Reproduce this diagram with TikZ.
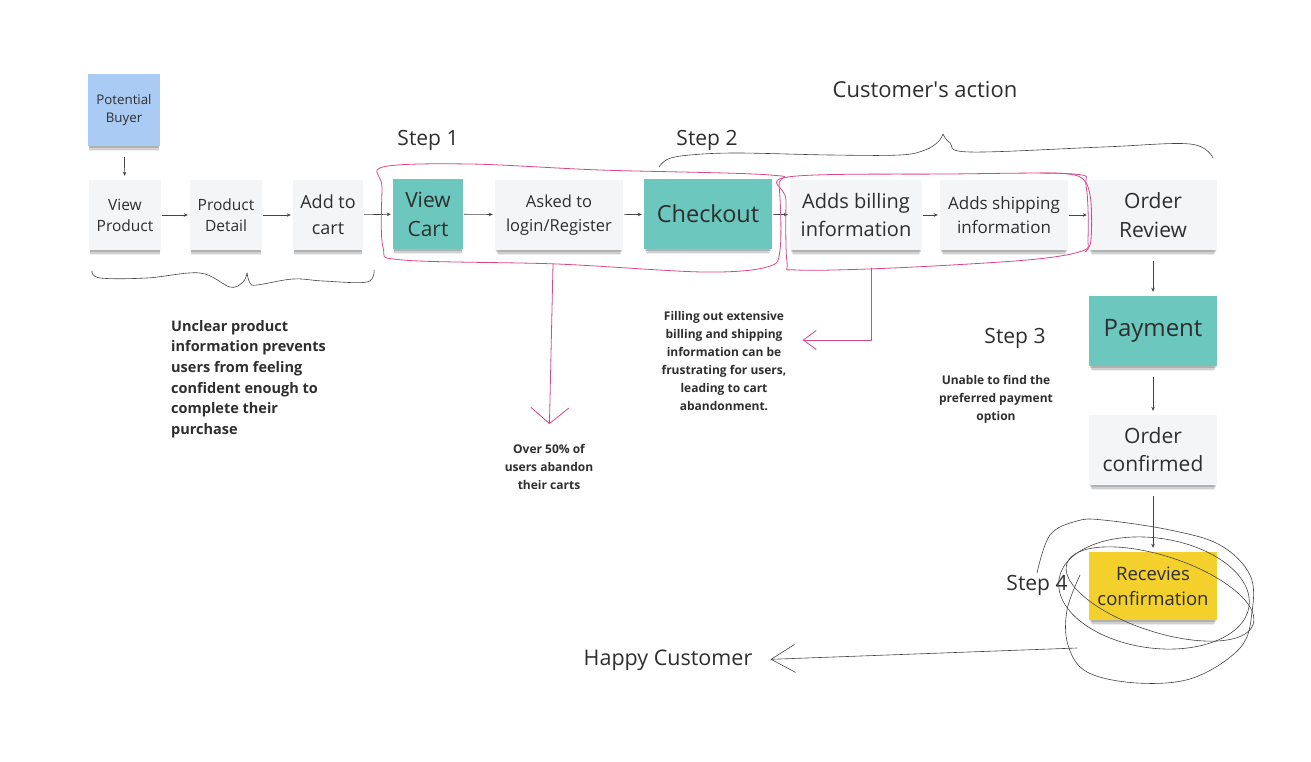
\documentclass[tikz,border=0pt]{standalone}
\usepackage{fontspec}
\setmainfont{Open Sans}
\usetikzlibrary{arrows.meta,shadows,calc}
\definecolor{notegray}{HTML}{F4F5F7}
\definecolor{noteteal}{HTML}{6CC8BE}
\definecolor{noteyellow}{HTML}{F4D02C}
\definecolor{noteblue}{HTML}{AACCF4}
\definecolor{inkpink}{HTML}{D9468A}
\definecolor{inkgray}{HTML}{444444}
\definecolor{textgray}{HTML}{2E2E2E}
\tikzset{
  fsz/.style 2 args={font=\fontsize{#1}{#2}\selectfont},
  bfsz/.style 2 args={font=\fontsize{#1}{#2}\selectfont\bfseries},
  sticky/.style={rectangle, fill=notegray, minimum width=72pt,
    minimum height=70pt, inner sep=2pt, align=center, text=textgray,
    drop shadow={shadow xshift=0pt, shadow yshift=-7pt, shadow scale=.96, opacity=.07, fill=black},
    drop shadow={shadow xshift=0pt, shadow yshift=-5pt, shadow scale=.97, opacity=.12, fill=black},
    drop shadow={shadow xshift=0pt, shadow yshift=-3pt, shadow scale=.98, opacity=.15, fill=black}},
  wide/.style={minimum width=128pt},
  handtext/.style={text=textgray, inner sep=0pt},
  remark/.style={text=textgray, inner sep=0pt, align=center, bfsz={12}{18}},
  flow/.style={draw=inkgray, line width=.6pt, -{Stealth[length=4pt,width=3.5pt]},
    shorten <=1pt, shorten >=2pt},
  dflow/.style={flow, shorten <=11pt, shorten >=4pt},
  pen/.style={draw=inkgray, line width=.6pt, line join=round, line cap=round},
  pinkink/.style={draw=inkpink, line width=.8pt, line join=round, line cap=round},
}

\begin{document}
\begin{tikzpicture}[x=1pt, y=-1pt]
  \useasboundingbox (0,0) rectangle (1311,762);

  % sticky notes
  \node[sticky, fill=noteblue, minimum height=72pt, fsz={13.3}{18.5}] (buyer) at (124,110) {Potential\\Buyer};
  \node[sticky, fsz={15.5}{21}] (view) at (125,215) {View\\Product};
  \node[sticky, fsz={15.5}{21}] (detail) at (226,215) {Product\\Detail};
  \node[sticky, minimum width=70pt, fsz={18}{26}] (addcart) at (328,215) {Add to\\cart};
  \node[sticky, fill=noteteal, minimum width=70pt, fsz={21}{29}] (viewcart) at (428,214) {View\\Cart};
  \node[sticky, wide, fsz={16.5}{24}] (login) at (559,215) {Asked to\\login/Register};
  \node[sticky, wide, fill=noteteal, fsz={23.5}{30}] (checkout) at (708,214) {Checkout};
  \node[sticky, minimum width=132pt, fsz={20}{28}] (billing) at (856,215) {Adds billing\\information};
  \node[sticky, wide, fsz={17}{24}] (shipping) at (1004,215) {Adds shipping\\information};
  \node[sticky, wide, fsz={21}{29}] (review) at (1153,215) {Order\\Review};
  \node[sticky, wide, fill=noteteal, fsz={24}{30}] (payment) at (1153,331) {Payment};
  \node[sticky, wide, fsz={21}{28}] (confirmed) at (1153,450) {Order\\confirmed};
  \node[sticky, wide, fill=noteyellow, minimum height=68pt, fsz={18.5}{25}] (receives) at (1153,586) {Recevies\\confirmation};

  % headings
  \node[handtext, fsz={22}{26}] (action) at (925,90) {Customer\textquotesingle s action};
  \node[handtext, fsz={21}{25}] (step1) at (428,140) {Step 1};
  \node[handtext, fsz={21}{25}] (step2) at (707,140) {Step 2};
  \node[handtext, fsz={21}{25}] (step3) at (1015,338) {Step 3};
  \node[handtext, fsz={21}{25}] (step4) at (1037,585) {Step 4};
  \node[handtext, fsz={21.5}{25}] (happy) at (668,660) {Happy Customer};

  % pain points
  \node[remark, align=left, anchor=west, bfsz={14.5}{20.6}] (unclear) at (171,379)
    {Unclear product\\information prevents\\users from feeling\\confident enough to\\complete their\\purchase};
  \node[remark] (abandon) at (549,467) {Over 50\% of\\users abandon\\their carts};
  \node[remark] (forms) at (724,361)
    {Filling out extensive\\billing and shipping\\information can be\\frustrating for users,\\leading to cart\\abandonment.};
  \node[remark] (options) at (996,399) {Unable to find the\\preferred payment\\option};

  % flow
  \draw[dflow] (buyer) -- (view);
  \draw[flow] (view) -- (detail);
  \draw[flow] (detail) -- (addcart);
  \draw[flow] (addcart) -- (viewcart);
  \draw[flow] (viewcart) -- (login);
  \draw[flow] (login) -- (checkout);
  \draw[flow] (checkout) -- (billing);
  \draw[flow] (billing) -- (shipping);
  \draw[flow] (shipping) -- (review);
  \draw[dflow] (review) -- (payment);
  \draw[dflow] (payment) -- (confirmed);
  \draw[dflow] (confirmed) -- (receives);

  % braces
  \draw[pen] plot[smooth, tension=.6] coordinates
    {(92,271) (100,278) (147,278) (200,273) (230,287) (243,282) (247,273)};
  \draw[pen] plot[smooth, tension=.6] coordinates
    {(247,273) (250,283) (257,285) (293,279) (323,281) (367,282) (374,270)};
  \draw[pen] plot[smooth, tension=.6] coordinates
    {(659,167) (668,159) (690,155) (737,153) (830,155) (900,155) (925,150) (938,142) (943,134)};
  \draw[pen] plot[smooth, tension=.6] coordinates
    {(943,134) (950,143) (970,152) (1103,147) (1190,144) (1213,158)};

  % pink loops
  \draw[pinkink] plot[smooth cycle, tension=.55] coordinates
    {(383,167) (470,164) (600,170) (770,175) (779,186) (780,250) (767,267)
     (703,272) (557,264) (403,260) (383,247) (382,187)};
  \draw[pinkink] plot[smooth cycle, tension=.55] coordinates
    {(788,177) (950,174) (1073,174) (1086,186) (1088,238) (1082,251)
     (1027,260) (893,268) (797,270) (787,262) (786,200)};
  \draw[pinkink] plot[smooth, tension=.6] coordinates
    {(1040,173) (1078,176) (1090,195) (1091,240) (1085,252)};
  \coordinate (cartloss) at (553,264);
  \coordinate (formloss) at (871,268);
  \draw[pinkink, -{Straight Barb[length=16pt,width=38pt]}, shorten >=20pt]
    (cartloss) -- (abandon.north);
  \draw[pinkink, -{Straight Barb[length=13pt,width=19pt]}, shorten >=16pt]
    (formloss) |- ($(forms.east)+(0,-21)$);

  % scribbles round the last note
  \draw[pen] (1154,593) ellipse [x radius=96, y radius=55, rotate=-8];
  \draw[pen] (1160,594) ellipse [x radius=98, y radius=38, rotate=-18];
  \draw[pen] plot[smooth, tension=.6] coordinates
    {(1037,573) (1050,535) (1077,521) (1103,520) (1170,530) (1220,545)
     (1250,575) (1252,612) (1240,648) (1193,678) (1137,683) (1087,672)
     (1068,645) (1067,610) (1080,575)};
  \coordinate (joy) at (1077,648);
  \draw[pen, -{Straight Barb[length=24pt,width=28pt]}, shorten >=18pt]
    (joy) -- (happy.east);
\end{tikzpicture}
\end{document}
